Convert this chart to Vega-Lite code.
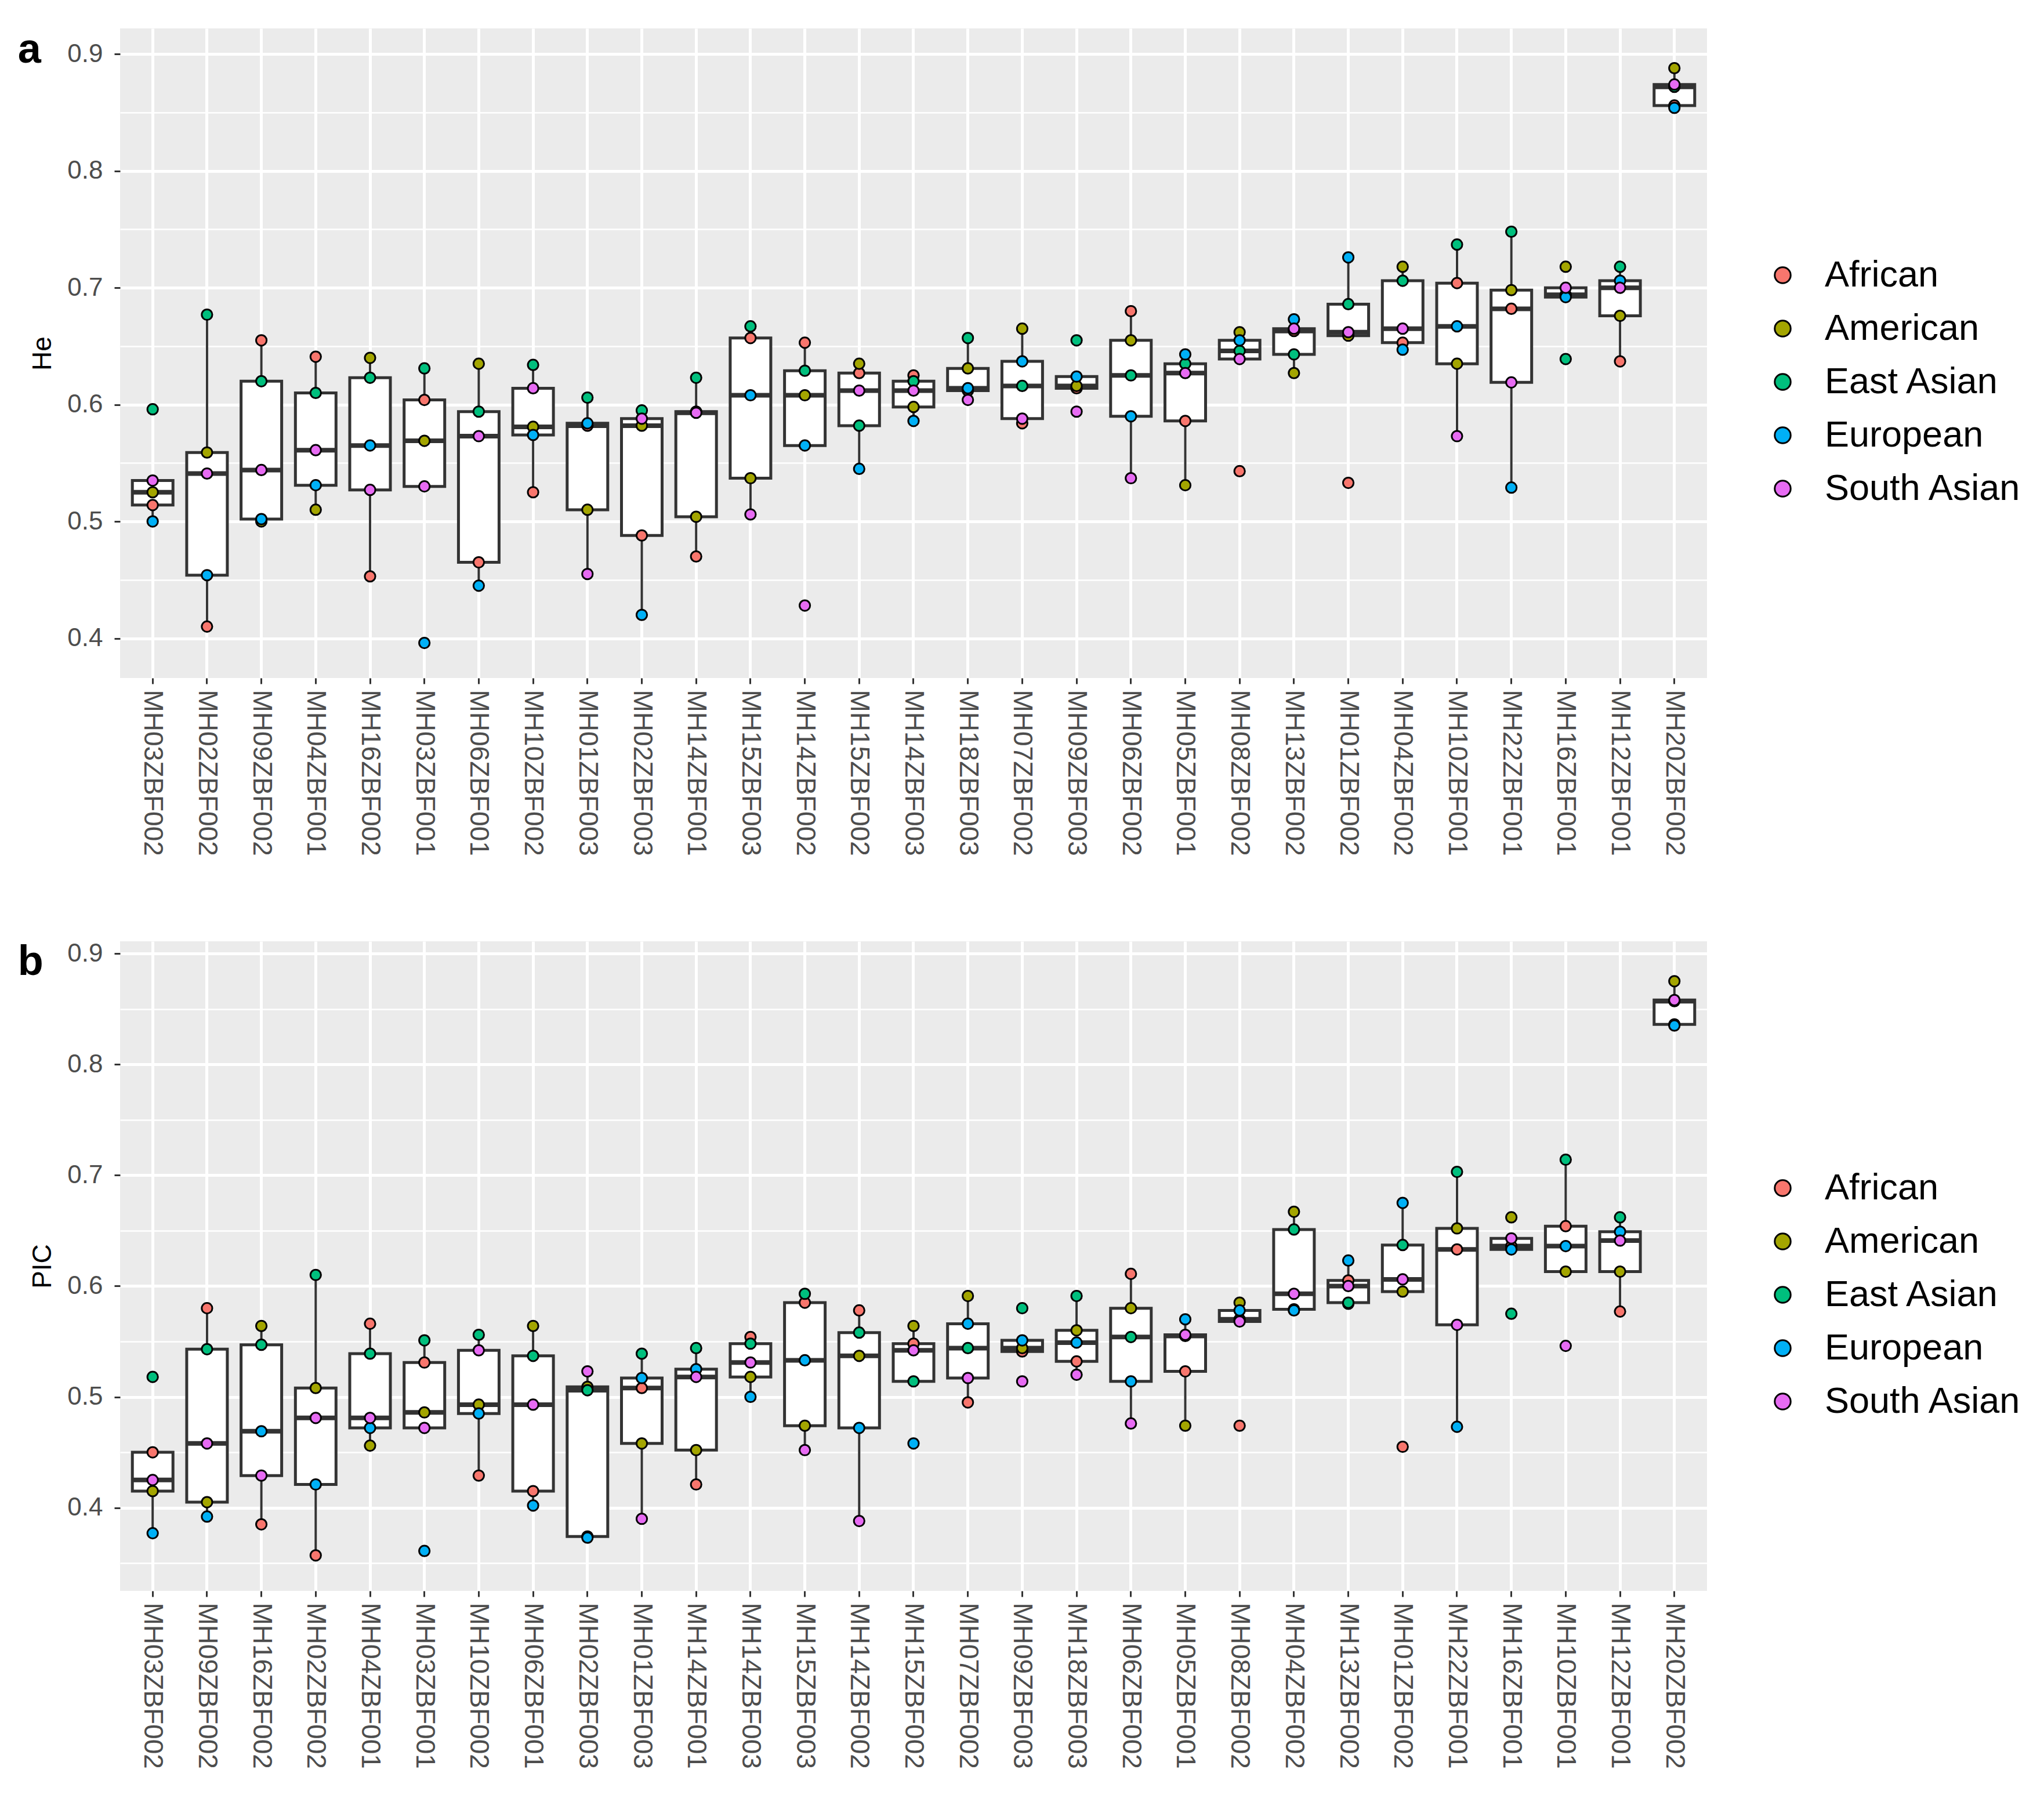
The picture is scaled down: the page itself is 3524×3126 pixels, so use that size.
{
"$schema": "https://vega.github.io/schema/vega-lite/v6.json",
"background": "white",
"padding": {"left": 30, "top": 49, "right": 0, "bottom": 0},
"config": {
 "font": "Liberation Sans",
 "view": {"fill": "#EBEBEB", "stroke": null},
 "axis": {"domain": false, "tickColor": "#333333", "tickWidth": 3, "tickSize": 10, "labelColor": "#4D4D4D", "labelFont": "Liberation Sans", "labelFontSize": 44, "labelLimit": 0, "titleFont": "Liberation Sans", "titleFontWeight": "normal", "titleColor": "black", "titleFontSize": 46, "gridColor": "white", "gridWidth": 5, "gridOpacity": 1},
 "legend": {"title": null, "orient": "none", "legendX": 2835, "legendY": 394, "padding": 0, "labelFont": "Liberation Sans", "labelFontSize": 63, "labelLimit": 0, "labelColor": "black", "labelOffset": 41, "symbolType": "circle", "symbolSize": 755, "symbolStrokeColor": "black", "symbolStrokeWidth": 3, "symbolOpacity": 1, "rowPadding": 28}
},
"datasets": {
 "he": [
  {"m":"MH03ZBF002","p":"African","v":0.514},{"m":"MH03ZBF002","p":"American","v":0.525},{"m":"MH03ZBF002","p":"East Asian","v":0.596},{"m":"MH03ZBF002","p":"European","v":0.500},{"m":"MH03ZBF002","p":"South Asian","v":0.535},
  {"m":"MH02ZBF002","p":"African","v":0.410},{"m":"MH02ZBF002","p":"American","v":0.559},{"m":"MH02ZBF002","p":"East Asian","v":0.677},{"m":"MH02ZBF002","p":"European","v":0.454},{"m":"MH02ZBF002","p":"South Asian","v":0.541},
  {"m":"MH09ZBF002","p":"African","v":0.655},{"m":"MH09ZBF002","p":"American","v":0.500},{"m":"MH09ZBF002","p":"East Asian","v":0.620},{"m":"MH09ZBF002","p":"European","v":0.502},{"m":"MH09ZBF002","p":"South Asian","v":0.544},
  {"m":"MH04ZBF001","p":"African","v":0.641},{"m":"MH04ZBF001","p":"American","v":0.510},{"m":"MH04ZBF001","p":"East Asian","v":0.610},{"m":"MH04ZBF001","p":"European","v":0.531},{"m":"MH04ZBF001","p":"South Asian","v":0.561},
  {"m":"MH16ZBF002","p":"African","v":0.453},{"m":"MH16ZBF002","p":"American","v":0.640},{"m":"MH16ZBF002","p":"East Asian","v":0.623},{"m":"MH16ZBF002","p":"European","v":0.565},{"m":"MH16ZBF002","p":"South Asian","v":0.527},
  {"m":"MH03ZBF001","p":"African","v":0.604},{"m":"MH03ZBF001","p":"American","v":0.569},{"m":"MH03ZBF001","p":"East Asian","v":0.631},{"m":"MH03ZBF001","p":"European","v":0.396},{"m":"MH03ZBF001","p":"South Asian","v":0.530},
  {"m":"MH06ZBF001","p":"African","v":0.465},{"m":"MH06ZBF001","p":"American","v":0.635},{"m":"MH06ZBF001","p":"East Asian","v":0.594},{"m":"MH06ZBF001","p":"European","v":0.445},{"m":"MH06ZBF001","p":"South Asian","v":0.573},
  {"m":"MH10ZBF002","p":"African","v":0.525},{"m":"MH10ZBF002","p":"American","v":0.581},{"m":"MH10ZBF002","p":"East Asian","v":0.634},{"m":"MH10ZBF002","p":"European","v":0.574},{"m":"MH10ZBF002","p":"South Asian","v":0.614},
  {"m":"MH01ZBF003","p":"African","v":0.582},{"m":"MH01ZBF003","p":"American","v":0.510},{"m":"MH01ZBF003","p":"East Asian","v":0.606},{"m":"MH01ZBF003","p":"European","v":0.584},{"m":"MH01ZBF003","p":"South Asian","v":0.455},
  {"m":"MH02ZBF003","p":"African","v":0.488},{"m":"MH02ZBF003","p":"American","v":0.582},{"m":"MH02ZBF003","p":"East Asian","v":0.595},{"m":"MH02ZBF003","p":"European","v":0.420},{"m":"MH02ZBF003","p":"South Asian","v":0.588},
  {"m":"MH14ZBF001","p":"African","v":0.470},{"m":"MH14ZBF001","p":"American","v":0.504},{"m":"MH14ZBF001","p":"East Asian","v":0.623},{"m":"MH14ZBF001","p":"European","v":0.594},{"m":"MH14ZBF001","p":"South Asian","v":0.593},
  {"m":"MH15ZBF003","p":"African","v":0.657},{"m":"MH15ZBF003","p":"American","v":0.537},{"m":"MH15ZBF003","p":"East Asian","v":0.667},{"m":"MH15ZBF003","p":"European","v":0.608},{"m":"MH15ZBF003","p":"South Asian","v":0.506},
  {"m":"MH14ZBF002","p":"African","v":0.653},{"m":"MH14ZBF002","p":"American","v":0.608},{"m":"MH14ZBF002","p":"East Asian","v":0.629},{"m":"MH14ZBF002","p":"European","v":0.565},{"m":"MH14ZBF002","p":"South Asian","v":0.428},
  {"m":"MH15ZBF002","p":"African","v":0.627},{"m":"MH15ZBF002","p":"American","v":0.635},{"m":"MH15ZBF002","p":"East Asian","v":0.582},{"m":"MH15ZBF002","p":"European","v":0.545},{"m":"MH15ZBF002","p":"South Asian","v":0.612},
  {"m":"MH14ZBF003","p":"African","v":0.625},{"m":"MH14ZBF003","p":"American","v":0.598},{"m":"MH14ZBF003","p":"East Asian","v":0.620},{"m":"MH14ZBF003","p":"European","v":0.586},{"m":"MH14ZBF003","p":"South Asian","v":0.612},
  {"m":"MH18ZBF003","p":"African","v":0.612},{"m":"MH18ZBF003","p":"American","v":0.631},{"m":"MH18ZBF003","p":"East Asian","v":0.657},{"m":"MH18ZBF003","p":"European","v":0.614},{"m":"MH18ZBF003","p":"South Asian","v":0.604},
  {"m":"MH07ZBF002","p":"African","v":0.584},{"m":"MH07ZBF002","p":"American","v":0.665},{"m":"MH07ZBF002","p":"East Asian","v":0.616},{"m":"MH07ZBF002","p":"European","v":0.637},{"m":"MH07ZBF002","p":"South Asian","v":0.588},
  {"m":"MH09ZBF003","p":"African","v":0.614},{"m":"MH09ZBF003","p":"American","v":0.616},{"m":"MH09ZBF003","p":"East Asian","v":0.655},{"m":"MH09ZBF003","p":"European","v":0.624},{"m":"MH09ZBF003","p":"South Asian","v":0.594},
  {"m":"MH06ZBF002","p":"African","v":0.680},{"m":"MH06ZBF002","p":"American","v":0.655},{"m":"MH06ZBF002","p":"East Asian","v":0.625},{"m":"MH06ZBF002","p":"European","v":0.590},{"m":"MH06ZBF002","p":"South Asian","v":0.537},
  {"m":"MH05ZBF001","p":"African","v":0.586},{"m":"MH05ZBF001","p":"American","v":0.531},{"m":"MH05ZBF001","p":"East Asian","v":0.635},{"m":"MH05ZBF001","p":"European","v":0.643},{"m":"MH05ZBF001","p":"South Asian","v":0.627},
  {"m":"MH08ZBF002","p":"African","v":0.543},{"m":"MH08ZBF002","p":"American","v":0.662},{"m":"MH08ZBF002","p":"East Asian","v":0.646},{"m":"MH08ZBF002","p":"European","v":0.655},{"m":"MH08ZBF002","p":"South Asian","v":0.639},
  {"m":"MH13ZBF002","p":"African","v":0.663},{"m":"MH13ZBF002","p":"American","v":0.627},{"m":"MH13ZBF002","p":"East Asian","v":0.643},{"m":"MH13ZBF002","p":"European","v":0.673},{"m":"MH13ZBF002","p":"South Asian","v":0.665},
  {"m":"MH01ZBF002","p":"African","v":0.533},{"m":"MH01ZBF002","p":"American","v":0.659},{"m":"MH01ZBF002","p":"East Asian","v":0.686},{"m":"MH01ZBF002","p":"European","v":0.726},{"m":"MH01ZBF002","p":"South Asian","v":0.662},
  {"m":"MH04ZBF002","p":"African","v":0.653},{"m":"MH04ZBF002","p":"American","v":0.718},{"m":"MH04ZBF002","p":"East Asian","v":0.706},{"m":"MH04ZBF002","p":"European","v":0.647},{"m":"MH04ZBF002","p":"South Asian","v":0.665},
  {"m":"MH10ZBF001","p":"African","v":0.704},{"m":"MH10ZBF001","p":"American","v":0.635},{"m":"MH10ZBF001","p":"East Asian","v":0.737},{"m":"MH10ZBF001","p":"European","v":0.667},{"m":"MH10ZBF001","p":"South Asian","v":0.573},
  {"m":"MH22ZBF001","p":"African","v":0.682},{"m":"MH22ZBF001","p":"American","v":0.698},{"m":"MH22ZBF001","p":"East Asian","v":0.748},{"m":"MH22ZBF001","p":"European","v":0.529},{"m":"MH22ZBF001","p":"South Asian","v":0.619},
  {"m":"MH16ZBF001","p":"African","v":0.694},{"m":"MH16ZBF001","p":"American","v":0.718},{"m":"MH16ZBF001","p":"East Asian","v":0.639},{"m":"MH16ZBF001","p":"European","v":0.692},{"m":"MH16ZBF001","p":"South Asian","v":0.700},
  {"m":"MH12ZBF001","p":"African","v":0.637},{"m":"MH12ZBF001","p":"American","v":0.676},{"m":"MH12ZBF001","p":"East Asian","v":0.718},{"m":"MH12ZBF001","p":"European","v":0.706},{"m":"MH12ZBF001","p":"South Asian","v":0.700},
  {"m":"MH20ZBF002","p":"African","v":0.856},{"m":"MH20ZBF002","p":"American","v":0.888},{"m":"MH20ZBF002","p":"East Asian","v":0.872},{"m":"MH20ZBF002","p":"European","v":0.854},{"m":"MH20ZBF002","p":"South Asian","v":0.874}
 ],
 "pic": [
  {"m":"MH03ZBF002","p":"African","v":0.450},{"m":"MH03ZBF002","p":"American","v":0.415},{"m":"MH03ZBF002","p":"East Asian","v":0.518},{"m":"MH03ZBF002","p":"European","v":0.377},{"m":"MH03ZBF002","p":"South Asian","v":0.425},
  {"m":"MH09ZBF002","p":"African","v":0.580},{"m":"MH09ZBF002","p":"American","v":0.405},{"m":"MH09ZBF002","p":"East Asian","v":0.543},{"m":"MH09ZBF002","p":"European","v":0.392},{"m":"MH09ZBF002","p":"South Asian","v":0.458},
  {"m":"MH16ZBF002","p":"African","v":0.385},{"m":"MH16ZBF002","p":"American","v":0.564},{"m":"MH16ZBF002","p":"East Asian","v":0.547},{"m":"MH16ZBF002","p":"European","v":0.469},{"m":"MH16ZBF002","p":"South Asian","v":0.429},
  {"m":"MH02ZBF002","p":"African","v":0.357},{"m":"MH02ZBF002","p":"American","v":0.508},{"m":"MH02ZBF002","p":"East Asian","v":0.610},{"m":"MH02ZBF002","p":"European","v":0.421},{"m":"MH02ZBF002","p":"South Asian","v":0.481},
  {"m":"MH04ZBF001","p":"African","v":0.566},{"m":"MH04ZBF001","p":"American","v":0.456},{"m":"MH04ZBF001","p":"East Asian","v":0.539},{"m":"MH04ZBF001","p":"European","v":0.472},{"m":"MH04ZBF001","p":"South Asian","v":0.481},
  {"m":"MH03ZBF001","p":"African","v":0.531},{"m":"MH03ZBF001","p":"American","v":0.486},{"m":"MH03ZBF001","p":"East Asian","v":0.551},{"m":"MH03ZBF001","p":"European","v":0.361},{"m":"MH03ZBF001","p":"South Asian","v":0.472},
  {"m":"MH10ZBF002","p":"African","v":0.429},{"m":"MH10ZBF002","p":"American","v":0.493},{"m":"MH10ZBF002","p":"East Asian","v":0.556},{"m":"MH10ZBF002","p":"European","v":0.485},{"m":"MH10ZBF002","p":"South Asian","v":0.542},
  {"m":"MH06ZBF001","p":"African","v":0.415},{"m":"MH06ZBF001","p":"American","v":0.564},{"m":"MH06ZBF001","p":"East Asian","v":0.537},{"m":"MH06ZBF001","p":"European","v":0.402},{"m":"MH06ZBF001","p":"South Asian","v":0.493},
  {"m":"MH02ZBF003","p":"African","v":0.374},{"m":"MH02ZBF003","p":"American","v":0.509},{"m":"MH02ZBF003","p":"East Asian","v":0.506},{"m":"MH02ZBF003","p":"European","v":0.373},{"m":"MH02ZBF003","p":"South Asian","v":0.523},
  {"m":"MH01ZBF003","p":"African","v":0.508},{"m":"MH01ZBF003","p":"American","v":0.458},{"m":"MH01ZBF003","p":"East Asian","v":0.539},{"m":"MH01ZBF003","p":"European","v":0.517},{"m":"MH01ZBF003","p":"South Asian","v":0.390},
  {"m":"MH14ZBF001","p":"African","v":0.421},{"m":"MH14ZBF001","p":"American","v":0.452},{"m":"MH14ZBF001","p":"East Asian","v":0.544},{"m":"MH14ZBF001","p":"European","v":0.525},{"m":"MH14ZBF001","p":"South Asian","v":0.518},
  {"m":"MH14ZBF003","p":"African","v":0.554},{"m":"MH14ZBF003","p":"American","v":0.518},{"m":"MH14ZBF003","p":"East Asian","v":0.548},{"m":"MH14ZBF003","p":"European","v":0.500},{"m":"MH14ZBF003","p":"South Asian","v":0.531},
  {"m":"MH15ZBF003","p":"African","v":0.585},{"m":"MH15ZBF003","p":"American","v":0.474},{"m":"MH15ZBF003","p":"East Asian","v":0.593},{"m":"MH15ZBF003","p":"European","v":0.533},{"m":"MH15ZBF003","p":"South Asian","v":0.452},
  {"m":"MH14ZBF002","p":"African","v":0.578},{"m":"MH14ZBF002","p":"American","v":0.537},{"m":"MH14ZBF002","p":"East Asian","v":0.558},{"m":"MH14ZBF002","p":"European","v":0.472},{"m":"MH14ZBF002","p":"South Asian","v":0.388},
  {"m":"MH15ZBF002","p":"African","v":0.548},{"m":"MH15ZBF002","p":"American","v":0.564},{"m":"MH15ZBF002","p":"East Asian","v":0.514},{"m":"MH15ZBF002","p":"European","v":0.458},{"m":"MH15ZBF002","p":"South Asian","v":0.542},
  {"m":"MH07ZBF002","p":"African","v":0.495},{"m":"MH07ZBF002","p":"American","v":0.591},{"m":"MH07ZBF002","p":"East Asian","v":0.544},{"m":"MH07ZBF002","p":"European","v":0.566},{"m":"MH07ZBF002","p":"South Asian","v":0.517},
  {"m":"MH09ZBF003","p":"African","v":0.541},{"m":"MH09ZBF003","p":"American","v":0.544},{"m":"MH09ZBF003","p":"East Asian","v":0.580},{"m":"MH09ZBF003","p":"European","v":0.551},{"m":"MH09ZBF003","p":"South Asian","v":0.514},
  {"m":"MH18ZBF003","p":"African","v":0.532},{"m":"MH18ZBF003","p":"American","v":0.560},{"m":"MH18ZBF003","p":"East Asian","v":0.591},{"m":"MH18ZBF003","p":"European","v":0.549},{"m":"MH18ZBF003","p":"South Asian","v":0.520},
  {"m":"MH06ZBF002","p":"African","v":0.611},{"m":"MH06ZBF002","p":"American","v":0.580},{"m":"MH06ZBF002","p":"East Asian","v":0.554},{"m":"MH06ZBF002","p":"European","v":0.514},{"m":"MH06ZBF002","p":"South Asian","v":0.476},
  {"m":"MH05ZBF001","p":"African","v":0.523},{"m":"MH05ZBF001","p":"American","v":0.474},{"m":"MH05ZBF001","p":"East Asian","v":0.555},{"m":"MH05ZBF001","p":"European","v":0.570},{"m":"MH05ZBF001","p":"South Asian","v":0.556},
  {"m":"MH08ZBF002","p":"African","v":0.474},{"m":"MH08ZBF002","p":"American","v":0.585},{"m":"MH08ZBF002","p":"East Asian","v":0.570},{"m":"MH08ZBF002","p":"European","v":0.578},{"m":"MH08ZBF002","p":"South Asian","v":0.568},
  {"m":"MH04ZBF002","p":"African","v":0.579},{"m":"MH04ZBF002","p":"American","v":0.667},{"m":"MH04ZBF002","p":"East Asian","v":0.651},{"m":"MH04ZBF002","p":"European","v":0.578},{"m":"MH04ZBF002","p":"South Asian","v":0.593},
  {"m":"MH13ZBF002","p":"African","v":0.605},{"m":"MH13ZBF002","p":"American","v":0.584},{"m":"MH13ZBF002","p":"East Asian","v":0.585},{"m":"MH13ZBF002","p":"European","v":0.623},{"m":"MH13ZBF002","p":"South Asian","v":0.600},
  {"m":"MH01ZBF002","p":"African","v":0.455},{"m":"MH01ZBF002","p":"American","v":0.595},{"m":"MH01ZBF002","p":"East Asian","v":0.637},{"m":"MH01ZBF002","p":"European","v":0.675},{"m":"MH01ZBF002","p":"South Asian","v":0.606},
  {"m":"MH22ZBF001","p":"African","v":0.633},{"m":"MH22ZBF001","p":"American","v":0.652},{"m":"MH22ZBF001","p":"East Asian","v":0.703},{"m":"MH22ZBF001","p":"European","v":0.473},{"m":"MH22ZBF001","p":"South Asian","v":0.565},
  {"m":"MH16ZBF001","p":"African","v":0.636},{"m":"MH16ZBF001","p":"American","v":0.662},{"m":"MH16ZBF001","p":"East Asian","v":0.575},{"m":"MH16ZBF001","p":"European","v":0.633},{"m":"MH16ZBF001","p":"South Asian","v":0.643},
  {"m":"MH10ZBF001","p":"African","v":0.654},{"m":"MH10ZBF001","p":"American","v":0.613},{"m":"MH10ZBF001","p":"East Asian","v":0.714},{"m":"MH10ZBF001","p":"European","v":0.636},{"m":"MH10ZBF001","p":"South Asian","v":0.546},
  {"m":"MH12ZBF001","p":"African","v":0.577},{"m":"MH12ZBF001","p":"American","v":0.613},{"m":"MH12ZBF001","p":"East Asian","v":0.662},{"m":"MH12ZBF001","p":"European","v":0.649},{"m":"MH12ZBF001","p":"South Asian","v":0.641},
  {"m":"MH20ZBF002","p":"African","v":0.836},{"m":"MH20ZBF002","p":"American","v":0.875},{"m":"MH20ZBF002","p":"East Asian","v":0.857},{"m":"MH20ZBF002","p":"European","v":0.835},{"m":"MH20ZBF002","p":"South Asian","v":0.858}
 ]
},
"spacing": 146,
"resolve": {"legend": {"color": "independent"}, "scale": {"color": "independent"}},
"vconcat": [
 {
  "width": 2736, "height": 1120,
  "title": {"text": "a", "anchor": "start", "frame": "bounds", "orient": "top", "offset": -74, "dx": -20, "fontSize": 72, "fontWeight": "bold", "color": "black", "font": "Liberation Sans"},
  "data": {"name": "he"},
  "layer": [
   {
    "mark": {"type": "boxplot", "extent": 1.5, "size": 70, "outliers": false, "ticks": false,
      "box": {"fill": "white", "stroke": "#333333", "strokeWidth": 5, "opacity": 1},
      "median": {"color": "#333333", "thickness": 8, "opacity": 1},
      "rule": {"color": "#333333", "strokeWidth": 4, "opacity": 1}},
    "encoding": {
     "x": {"field": "m", "type": "nominal", "scale": {"domain": ["MH03ZBF002","MH02ZBF002","MH09ZBF002","MH04ZBF001","MH16ZBF002","MH03ZBF001","MH06ZBF001","MH10ZBF002","MH01ZBF003","MH02ZBF003","MH14ZBF001","MH15ZBF003","MH14ZBF002","MH15ZBF002","MH14ZBF003","MH18ZBF003","MH07ZBF002","MH09ZBF003","MH06ZBF002","MH05ZBF001","MH08ZBF002","MH13ZBF002","MH01ZBF002","MH04ZBF002","MH10ZBF001","MH22ZBF001","MH16ZBF001","MH12ZBF001","MH20ZBF002"], "paddingInner": 0, "paddingOuter": 0.1},
       "axis": {"title": null, "labelAngle": 90, "labelFontSize": 46, "labelPadding": 10, "bandPosition": 0.5, "grid": true, "gridWidth": 5}},
     "y": {"field": "v", "type": "quantitative", "scale": {"domain": [0.366, 0.922], "nice": false, "zero": false},
       "axis": {"title": "He", "values": [0.4,0.5,0.6,0.7,0.8,0.9], "format": ".1f", "labelPadding": 20, "titlePadding": 18, "grid": true, "gridWidth": 5}}
    }
   },
   {
    "mark": {"type": "circle", "size": 330, "stroke": "black", "strokeWidth": 3, "opacity": 1},
    "encoding": {
     "x": {"field": "m", "type": "nominal"},
     "y": {"field": "v", "type": "quantitative", "axis": {"orient": "left", "values": [0.45,0.55,0.65,0.75,0.85], "labels": false, "ticks": false, "title": null, "grid": true, "gridWidth": 2.5}},
     "color": {"field": "p", "type": "nominal", "scale": {"domain": ["African","American","East Asian","European","South Asian"], "range": ["#F8766D","#A3A500","#00BF7D","#00B0F6","#E76BF3"]}, "legend": {"title": null}}
    }
   }
  ],
  "resolve": {"axis": {"y": "independent"}}
 },
 {
  "width": 2736, "height": 1120,
  "title": {"text": "b", "anchor": "start", "frame": "bounds", "orient": "top", "offset": -74, "dx": -20, "fontSize": 72, "fontWeight": "bold", "color": "black", "font": "Liberation Sans"},
  "data": {"name": "pic"},
  "layer": [
   {
    "mark": {"type": "boxplot", "extent": 1.5, "size": 70, "outliers": false, "ticks": false,
      "box": {"fill": "white", "stroke": "#333333", "strokeWidth": 5, "opacity": 1},
      "median": {"color": "#333333", "thickness": 8, "opacity": 1},
      "rule": {"color": "#333333", "strokeWidth": 4, "opacity": 1}},
    "encoding": {
     "x": {"field": "m", "type": "nominal", "scale": {"domain": ["MH03ZBF002","MH09ZBF002","MH16ZBF002","MH02ZBF002","MH04ZBF001","MH03ZBF001","MH10ZBF002","MH06ZBF001","MH02ZBF003","MH01ZBF003","MH14ZBF001","MH14ZBF003","MH15ZBF003","MH14ZBF002","MH15ZBF002","MH07ZBF002","MH09ZBF003","MH18ZBF003","MH06ZBF002","MH05ZBF001","MH08ZBF002","MH04ZBF002","MH13ZBF002","MH01ZBF002","MH22ZBF001","MH16ZBF001","MH10ZBF001","MH12ZBF001","MH20ZBF002"], "paddingInner": 0, "paddingOuter": 0.1},
       "axis": {"title": null, "labelAngle": 90, "labelFontSize": 46, "labelPadding": 10, "bandPosition": 0.5, "grid": true, "gridWidth": 5}},
     "y": {"field": "v", "type": "quantitative", "scale": {"domain": [0.325, 0.911], "nice": false, "zero": false},
       "axis": {"title": "PIC", "values": [0.4,0.5,0.6,0.7,0.8,0.9], "format": ".1f", "labelPadding": 20, "titlePadding": 18, "grid": true, "gridWidth": 5}}
    }
   },
   {
    "mark": {"type": "circle", "size": 330, "stroke": "black", "strokeWidth": 3, "opacity": 1},
    "encoding": {
     "x": {"field": "m", "type": "nominal"},
     "y": {"field": "v", "type": "quantitative", "axis": {"orient": "left", "values": [0.35,0.45,0.55,0.65,0.75,0.85], "labels": false, "ticks": false, "title": null, "grid": true, "gridWidth": 2.5}},
     "color": {"field": "p", "type": "nominal", "scale": {"domain": ["African","American","East Asian","European","South Asian"], "range": ["#F8766D","#A3A500","#00BF7D","#00B0F6","#E76BF3"]}, "legend": {"title": null}}
    }
   }
  ],
  "resolve": {"axis": {"y": "independent"}}
 }
]
}
